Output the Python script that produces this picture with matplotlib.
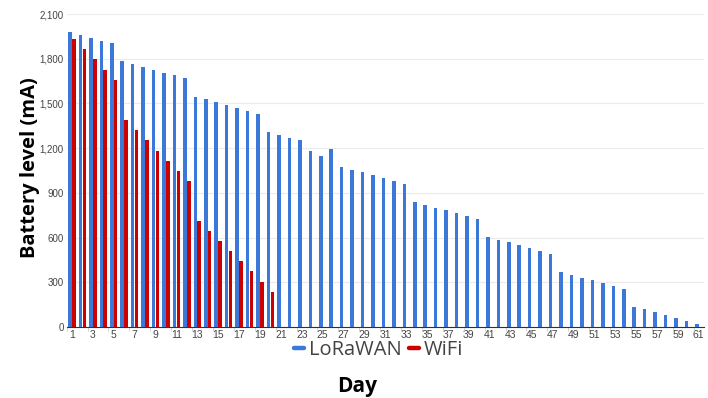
import numpy as np
import matplotlib
matplotlib.use("Agg")
import matplotlib.pyplot as plt
from matplotlib.lines import Line2D

# ── Data ──────────────────────────────────────────────────────────────────────
days = list(range(1, 62))
lorawan = [1980, 1960, 1942, 1922, 1904, 1784, 1764, 1744, 1726, 1706,
           1688, 1668, 1545, 1528, 1510, 1489, 1469, 1449, 1431, 1309,
           1291, 1271, 1253, 1182, 1149, 1195, 1073, 1055, 1038, 1018,
           998, 980, 960, 838, 820, 800, 782, 764, 744, 724,
           604, 587, 567, 547, 529, 511, 490, 369, 351, 331,
           313, 293, 275, 255, 136, 118, 98, 78, 60, 42, 22]
wifi = [1931, 1862, 1795, 1726, 1657, 1389, 1322, 1253, 1184, 1117,
        1048, 979, 711, 645, 577, 509, 442, 373, 304, 238]
wifi_days = days[:len(wifi)]
y_ticks = [0, 300, 600, 900, 1200, 1500, 1800, 2100]
x_ticks = days[::2]

BLUE = "#3c78d8"
RED = "#cc0000"

# ── Figure ────────────────────────────────────────────────────────────────────
fig = plt.figure(figsize=(7.08, 3.98), dpi=100)
ax = fig.add_axes([0.0942, 0.1784, 0.9002, 0.7864])

w = 0.34
ax.bar(np.array(days) - 0.185, lorawan, width=w, color=BLUE, zorder=3)
ax.bar(np.array(wifi_days) + 0.185, wifi, width=w, color=RED, zorder=3)

ax.set_xlim(0.5, 61.5)
ax.set_ylim(0, 2100)
ax.set_yticks(y_ticks)
ax.set_yticklabels([f"{v:,}" for v in y_ticks], fontsize=7, color="#444444",
                   family="Liberation Sans")
ax.set_xticks(x_ticks)
ax.set_xticklabels([str(d) for d in x_ticks], fontsize=7.5, color="#444444",
                   family="Liberation Sans")
ax.tick_params(axis="both", length=0, pad=2)
ax.set_xticks(np.arange(0.5, 62, 2), minor=True)
ax.tick_params(axis="x", which="minor", length=3, color="#cccccc")

ax.grid(axis="y", color="#ebebeb", linewidth=0.8, zorder=0)
for s in ["top", "right", "left"]:
    ax.spines[s].set_visible(False)
ax.spines["bottom"].set_color("#333333")
ax.spines["bottom"].set_linewidth(0.8)

fig.text(0.042, 0.58, "Battery level (mA)", rotation=90, ha="center", va="center",
         fontsize=14.5, fontweight="bold", family="Open Sans", color="black")
fig.text(0.505, 0.03, "Day", ha="center", va="center",
         fontsize=15, fontweight="bold", family="Open Sans", color="black")

# legend: small rounded swatches like the Google Sheets original
handles = [Line2D([], [], color=BLUE, lw=3.2, solid_capstyle="round"),
           Line2D([], [], color=RED, lw=3.2, solid_capstyle="round")]
leg = fig.legend(handles, ["LoRaWAN", "WiFi"], loc="center",
                 bbox_to_anchor=(0.535, 0.12), ncol=2, frameon=False,
                 handlelength=0.5, handletextpad=0.25, columnspacing=0.35,
                 prop={"family": "Open Sans", "size": 14.5})
for t in leg.get_texts():
    t.set_color("#444444")

fig.savefig("out.png", dpi=100)
